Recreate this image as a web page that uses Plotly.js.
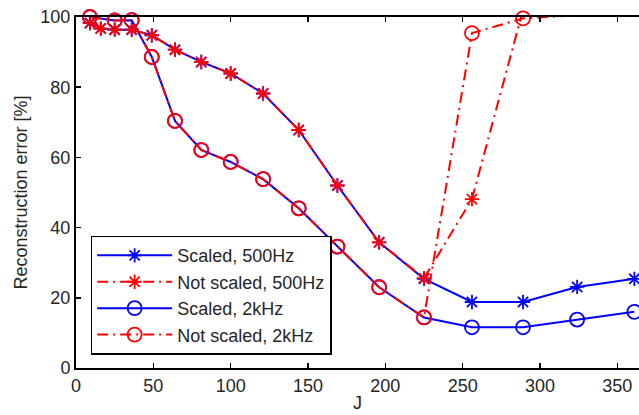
<!DOCTYPE html>
<html>
<head>
<meta charset="utf-8">
<script src="https://cdn.plot.ly/plotly-3.0.1.min.js"></script>
<style>
  html, body { margin: 0; padding: 0; background: #fff; }
  #chart { width: 639px; height: 415px; }
</style>
</head>
<body>
<div id="chart"></div>
<script>
// Number of components J (squares of 3..19)
const jAll = [9, 16, 25, 36, 49, 64, 81, 100, 121, 144, 169, 196, 225, 256, 289, 324, 361];
const j2k  = [9, 25, 36, 49, 64, 81, 100, 121, 144, 169, 196, 225, 256, 289, 324, 361];

// Reconstruction error [%], 500 Hz
const scaled500    = [98.3, 96.7, 96.4, 96.4, 94.8, 90.7, 87.2, 83.9, 78.2, 67.8, 52.0, 35.8, 25.4, 18.8, 18.8, 23.1, 25.4];
const notScaled500 = [98.3, 96.7, 96.4, 96.4, 94.8, 90.7, 87.2, 83.9, 78.2, 67.8, 52.0, 35.8, 25.6, 48.1, 102.0];
const jNot500      = jAll.slice(0, notScaled500.length);

// Reconstruction error [%], 2 kHz
const scaled2k    = [100, 99.0, 99.1, 88.6, 70.4, 62.1, 58.7, 53.8, 45.5, 34.6, 23.0, 14.4, 11.6, 11.6, 13.8, 16.0];
const notScaled2k = [100, 99.0, 99.1, 88.6, 70.4, 62.1, 58.7, 53.8, 45.5, 34.6, 23.0, 14.4, 95.4, 99.6, 100.5, 101.0];

const legendNames = ['Scaled, 500Hz', 'Not scaled, 500Hz', 'Scaled, 2kHz', 'Not scaled, 2kHz'];
const xLabel = 'J';
const yLabel = 'Reconstruction error [%]';

const BLUE = 'rgb(0,0,255)';
const RED = 'rgb(255,0,0)';
const DASHDOT = '11px,5px,2px,5px';

function series(x, y, name, color, dash, symbol, size, group) {
  return {
    type: 'scatter',
    mode: 'lines+markers',
    x: x, y: y, name: name,
    legendgroup: group,
    cliponaxis: false,
    line: { color: color, width: 2, dash: dash },
    marker: { symbol: symbol, size: size, color: color,
              line: { color: color, width: 1.8 } }
  };
}

const traces = [
  series(jAll, scaled500, legendNames[0], BLUE, 'solid', 'asterisk-open', 12, 'g1'),
  series(jNot500, notScaled500, legendNames[1], RED, DASHDOT, 'asterisk-open', 12, 'g2'),
  series(j2k, scaled2k, legendNames[2], BLUE, 'solid', 'circle-open', 14, 'g3'),
  series(j2k, notScaled2k, legendNames[3], RED, DASHDOT, 'circle-open', 14, 'g4')
];

const FONT = 'Liberation Sans, Arial, Helvetica, sans-serif';
const TEXT = '#262626';

const layout = {
  width: 639,
  height: 415,
  margin: { l: 76, r: 0, t: 17, b: 47, pad: 0 },
  paper_bgcolor: '#fff',
  plot_bgcolor: '#fff',
  font: { family: FONT, size: 18, color: TEXT },
  showlegend: true,
  legend: {
    x: 0.026, y: 0.377, xanchor: 'left', yanchor: 'top',
    bgcolor: '#fff', bordercolor: '#000', borderwidth: 1.5,
    font: { family: FONT, size: 18, color: TEXT },
    itemwidth: 75,
    tracegroupgap: 6,
    traceorder: 'normal'
  },
  xaxis: {
    range: [0, 364],
    tickvals: [0, 50, 100, 150, 200, 250, 300, 350],
    ticks: 'inside', ticklen: 5, tickwidth: 1.5, tickcolor: '#000',
    showline: true, linecolor: '#000', linewidth: 2, mirror: 'ticks',
    showgrid: false, zeroline: false,
    tickfont: { size: 18, color: TEXT },
    automargin: false
  },
  yaxis: {
    range: [0, 100],
    tickvals: [0, 20, 40, 60, 80, 100],
    ticks: 'inside', ticklen: 5, tickwidth: 1.5, tickcolor: '#000',
    showline: true, linecolor: '#000', linewidth: 2, mirror: false,
    showgrid: false, zeroline: false,
    tickfont: { size: 18, color: TEXT },
    title: { text: yLabel, standoff: 8, font: { size: 18, color: TEXT } },
    automargin: false
  },
  // x-axis label, placed just above the bottom edge of the figure
  annotations: [{
    text: xLabel,
    xref: 'paper', yref: 'paper',
    x: 0.5, y: 0,
    xanchor: 'center', yanchor: 'bottom',
    yshift: -46,
    borderpad: 0,
    showarrow: false,
    font: { family: FONT, size: 18, color: TEXT }
  }]
};

Plotly.newPlot('chart', traces, layout, { displayModeBar: false, staticPlot: true });
</script>
</body>
</html>
